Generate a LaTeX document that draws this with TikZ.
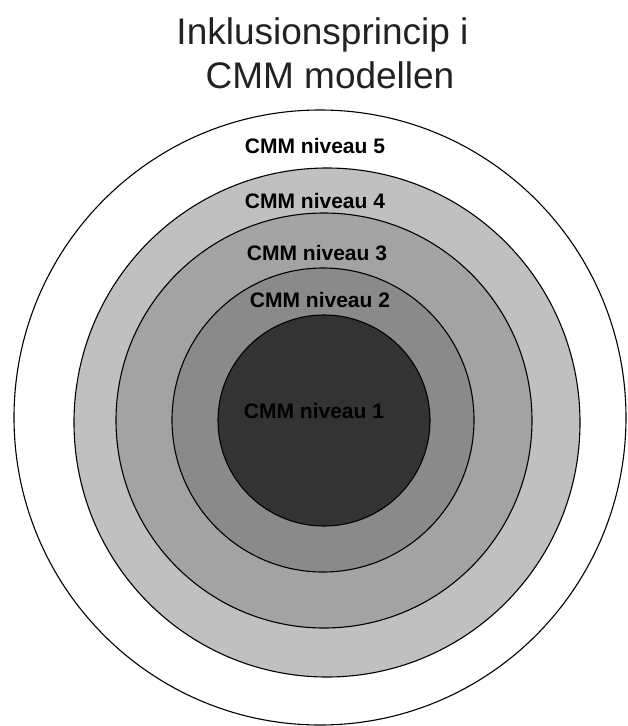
\documentclass[tikz,border=0pt]{standalone}
\usepackage{fontspec}
\setmainfont{Liberation Sans}
\definecolor{lvlone}{HTML}{333333}
\definecolor{lvltwo}{HTML}{8A8A8A}
\definecolor{lvlthree}{HTML}{A3A3A3}
\definecolor{lvlfour}{HTML}{C0C0C0}
\definecolor{titlegray}{HTML}{222222}
\begin{document}
\begin{tikzpicture}[x=1pt,y=-1pt,
  ring/.style={draw=black,line width=1.1pt},
  lvl/.style={font=\bfseries\fontsize{21}{21}\selectfont,anchor=base,inner sep=0pt,text=black},
  headline/.style={font=\fontsize{37}{37}\selectfont,anchor=base,inner sep=0pt,text=titlegray}]
\useasboundingbox (0,0) rectangle (628,726);
\fill[white] (0,0) rectangle (628,726);

% title
\node[headline] (title1) at (322.5,44) {Inklusionsprincip i};
\node[headline] (title2) at (330,88) {CMM modellen};

% nested levels, outermost first
\draw[ring,fill=white]     (320,417.5) ellipse [x radius=306pt, y radius=307.5pt];
\draw[ring,fill=lvlfour]   (327,422.5) ellipse [x radius=253pt, y radius=254.5pt];
\draw[ring,fill=lvlthree]  (324,420.5) ellipse [x radius=208pt, y radius=207.5pt];
\draw[ring,fill=lvltwo]    (323,420)   ellipse [x radius=151pt, y radius=152pt];
\draw[ring,fill=lvlone]    (324,420.5) ellipse [x radius=106pt, y radius=105.5pt];

% level labels
\node[lvl] (n5) at (315,153) {CMM niveau 5};
\node[lvl] (n4) at (315,208) {CMM niveau 4};
\node[lvl] (n3) at (317,260) {CMM niveau 3};
\node[lvl] (n2) at (320,307) {CMM niveau 2};
\node[lvl] (n1) at (314,418) {CMM niveau 1};
\end{tikzpicture}
\end{document}
